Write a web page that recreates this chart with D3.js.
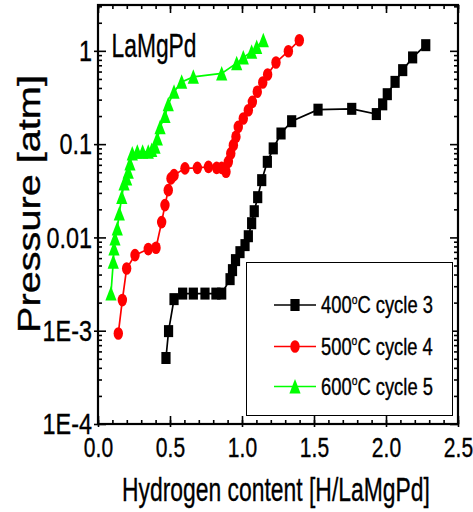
<!DOCTYPE html>
<html>
<head>
<meta charset="utf-8">
<script src="https://cdn.jsdelivr.net/npm/d3@7/dist/d3.min.js"></script>
<style>
  body { margin: 0; background: #fff; }
  svg { display: block; }
  text { font-family: "Liberation Sans", Arial, Helvetica, sans-serif; fill: #000; stroke: #000; stroke-width: 0.35px; }
</style>
</head>
<body>
<svg id="chart" width="473" height="512"></svg>
<script>
// Hydrogen content [H/LaMgPd] and equilibrium pressure [atm] per cycle
const hydrogen400 = [0.472,0.490,0.528,0.588,0.662,0.743,0.819,0.859,0.917,0.934,0.955,0.986,1.021,1.044,1.067,1.085,1.109,1.137,1.176,1.217,1.271,1.345,1.528,1.762,1.933,1.977,2.009,2.063,2.116,2.185,2.276];
const pressure400 = [5.1e-4,9.9e-4,2.18e-3,2.5e-3,2.5e-3,2.5e-3,2.5e-3,2.5e-3,3.57e-3,4.46e-3,5.71e-3,6.95e-3,8.27e-3,0.0103,0.0142,0.0191,0.027,0.0411,0.0646,0.090,0.130,0.176,0.234,0.239,0.210,0.267,0.343,0.465,0.621,0.850,1.15];

const hydrogen500 = [0.141,0.169,0.199,0.257,0.349,0.403,0.442,0.465,0.488,0.507,0.528,0.604,0.690,0.767,0.824,0.859,0.889,0.905,0.922,0.940,0.958,0.974,1.009,1.044,1.072,1.106,1.144,1.178,1.236,1.322,1.398];
const pressure500 = [9.35e-4,2.13e-3,4.65e-3,6.46e-3,7.5e-3,7.74e-3,0.0146,0.0222,0.0321,0.0429,0.0465,0.055,0.0557,0.0571,0.0557,0.0557,0.0505,0.0646,0.0795,0.0975,0.120,0.153,0.188,0.231,0.284,0.364,0.458,0.558,0.751,0.99,1.30];

const hydrogen600 = [0.090,0.106,0.111,0.118,0.134,0.148,0.165,0.181,0.199,0.210,0.222,0.238,0.273,0.310,0.349,0.373,0.396,0.412,0.431,0.465,0.488,0.528,0.581,0.662,0.859,0.963,1.009,1.067,1.102,1.148];
const pressure600 = [2.51e-3,5.47e-3,7.62e-3,9.75e-3,0.0125,0.0181,0.0272,0.0379,0.0429,0.0505,0.0621,0.0795,0.0826,0.0826,0.0826,0.0863,0.0936,0.115,0.152,0.2,0.268,0.364,0.465,0.526,0.573,0.738,0.846,0.976,1.10,1.30];

const seriesTemps  = ["400", "500", "600"];
const seriesCycles = ["C cycle 3", "C cycle 4", "C cycle 5"];
const seriesColors = ["#000000", "#ff0000", "#00ff00"];
const seriesShapes = ["square", "circle", "triangle"];

const xTickValues = [0, 0.5, 1.0, 1.5, 2.0, 2.5];
const xTickLabels = ["0.0", "0.5", "1.0", "1.5", "2.0", "2.5"];
const yTickValues = [1e-4, 1e-3, 0.01, 0.1, 1];
const yTickLabels = ["1E-4", "1E-3", "0.01", "0.1", "1"];

const xTitle = "Hydrogen content [H/LaMgPd]";
const yTitle = "Pressure [atm]";
const sampleName = "LaMgPd";

// ---- layout ----
const plot = { left: 98, right: 458, top: 5, bottom: 424 };
const svg = d3.select("#chart");

const x = d3.scaleLinear().domain([0, 2.5]).range([plot.left, plot.right]);
const y = d3.scaleLog().domain([1e-4, 3.1]).range([plot.bottom, plot.top]);

const xMinor = d3.range(0, 2.501, 0.1).map(v => +v.toFixed(2));
const yMinor = [];
for (let e = -4; e <= 0; e++) for (let m = 2; m <= 9; m++) {
  const v = m * Math.pow(10, e);
  if (v < 3.1) yMinor.push(v);
}

const TICK_K = 0.78; // horizontal compression of tick lettering

// ---- minor ticks (inward on all four sides) ----
const minorLen = 4;
svg.append("g").attr("transform", `translate(0,${plot.bottom})`)
  .call(d3.axisBottom(x).tickValues(xMinor).tickSize(-minorLen).tickFormat(""));
svg.append("g").attr("transform", `translate(0,${plot.top})`)
  .call(d3.axisTop(x).tickValues(xMinor).tickSize(-minorLen).tickFormat(""));
svg.append("g").attr("transform", `translate(${plot.left},0)`)
  .call(d3.axisLeft(y).tickValues(yMinor).tickSize(-minorLen).tickFormat(""));
svg.append("g").attr("transform", `translate(${plot.right},0)`)
  .call(d3.axisRight(y).tickValues(yMinor).tickSize(-minorLen).tickFormat(""));

// ---- major ticks with labels ----
const majorLen = 8;
const gx = svg.append("g").attr("transform", `translate(0,${plot.bottom})`)
  .call(d3.axisBottom(x).tickValues(xTickValues)
    .tickFormat((d, i) => xTickLabels[i]).tickSize(-majorLen).tickPadding(14));
gx.selectAll(".tick line").attr("y1", 3);
gx.selectAll(".tick text")
  .attr("font-size", 27)
  .attr("transform", `scale(${TICK_K},1)`);

const gy = svg.append("g").attr("transform", `translate(${plot.left},0)`)
  .call(d3.axisLeft(y).tickValues(yTickValues)
    .tickFormat((d, i) => yTickLabels[i]).tickSize(-majorLen).tickPadding(6));
gy.selectAll(".tick line").attr("x1", -4);
gy.selectAll(".tick text")
  .attr("font-size", 30)
  .attr("x", -6 / TICK_K)
  .attr("transform", `scale(${TICK_K},1)`);

svg.append("g").attr("transform", `translate(0,${plot.top})`)
  .call(d3.axisTop(x).tickValues(xTickValues).tickSize(-majorLen).tickFormat(""));
svg.append("g").attr("transform", `translate(${plot.right},0)`)
  .call(d3.axisRight(y).tickValues(yTickValues).tickSize(-majorLen).tickFormat(""));

svg.selectAll(".domain").remove();
svg.selectAll(".tick line").attr("stroke", "#000").attr("stroke-width", 1.6);

// ---- frame ----
svg.append("rect")
  .attr("x", plot.left).attr("y", plot.top)
  .attr("width", plot.right - plot.left).attr("height", plot.bottom - plot.top)
  .attr("fill", "none").attr("stroke", "#000").attr("stroke-width", 2.2);

// ---- markers ----
function marker(sel, shape, color) {
  if (shape === "square") {
    sel.append("rect").attr("x", -4.6).attr("y", -6).attr("width", 9.2).attr("height", 12)
      .attr("fill", color);
  } else if (shape === "circle") {
    sel.append("ellipse").attr("rx", 4.7).attr("ry", 6.3).attr("fill", color);
  } else {
    sel.append("path").attr("d", "M0,-7.5L5.6,7L-5.6,7Z").attr("fill", color);
  }
}

// ---- series ----
const series = [
  { h: hydrogen400, p: pressure400 },
  { h: hydrogen500, p: pressure500 },
  { h: hydrogen600, p: pressure600 }
];
const line = d3.line().x(d => x(d[0])).y(d => y(d[1]));

series.forEach((s, i) => {
  const pts = s.h.map((h, j) => [h, s.p[j]]);
  const g = svg.append("g");
  g.append("path").datum(pts)
    .attr("d", line).attr("fill", "none")
    .attr("stroke", seriesColors[i]).attr("stroke-width", 1.7);
  g.selectAll("g.pt").data(pts).join("g").attr("class", "pt")
    .attr("transform", d => `translate(${x(d[0])},${y(d[1])})`)
    .each(function () { marker(d3.select(this), seriesShapes[i], seriesColors[i]); });
});

// ---- fit helper: squeeze a text to a given width ----
function fitWidth(textSel, tx, ty, width, anchor) {
  const w = textSel.node().getBBox().width;
  const k = width / w;
  const dx = anchor === "middle" ? -width / 2 : 0;
  textSel.attr("transform", `translate(${tx + dx},${ty}) scale(${k},1)`);
}

// ---- legend ----
const legend = svg.append("g");
legend.append("rect")
  .attr("x", 246.5).attr("y", 262.5).attr("width", 206).attr("height", 153)
  .attr("fill", "#fff").attr("stroke", "#000").attr("stroke-width", 1);
const rowY = [305, 346.5, 386.5];
seriesTemps.forEach((t, i) => {
  const gy0 = rowY[i];
  legend.append("line").attr("x1", 274).attr("x2", 316).attr("y1", gy0).attr("y2", gy0)
    .attr("stroke", seriesColors[i]).attr("stroke-width", 1.7);
  const m = legend.append("g").attr("transform", `translate(295,${gy0})`);
  marker(m, seriesShapes[i], seriesColors[i]);
  const txt = legend.append("text").attr("font-size", 23);
  txt.append("tspan").text(t);
  txt.append("tspan").attr("font-size", 13).attr("dy", -9.5).text("o");
  txt.append("tspan").attr("dy", 9.5).text(seriesCycles[i]);
  fitWidth(txt, 321, gy0 + 8.3, 112, "start");
});

// ---- sample label ----
const sample = svg.append("text").attr("font-size", 33.5).text(sampleName);
fitWidth(sample, 111.5, 57.3, 85, "start");

// ---- axis titles ----
const xt = svg.append("text").attr("font-size", 34).text(xTitle);
fitWidth(xt, 276, 501, 308, "middle");

const ytG = svg.append("g").attr("transform", "translate(40,204) rotate(-90)");
const yt = ytG.append("text").attr("font-size", 32).text(yTitle);
fitWidth(yt, 0, 0, 258, "middle");
</script>
</body>
</html>
